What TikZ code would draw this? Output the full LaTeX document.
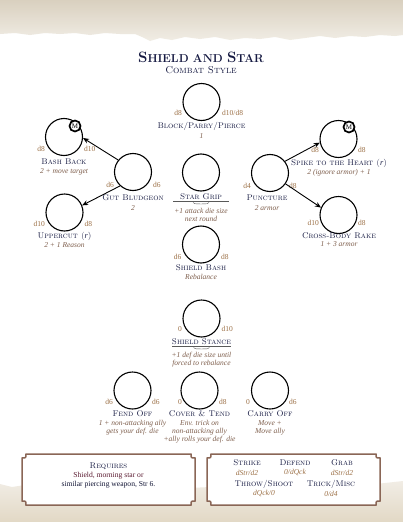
\documentclass[tikz,border=0pt]{standalone}
\usepackage{fontspec}
\newfontfamily\tms{Liberation Serif}
\usetikzlibrary{arrows.meta}
\definecolor{navy}{HTML}{161A42}
\definecolor{dicec}{HTML}{9C7046}
\definecolor{descc}{HTML}{7E5E4C}
\definecolor{boxc}{HTML}{8A6656}
\definecolor{maroon}{HTML}{5A1A30}
\definecolor{beigeA}{HTML}{D9D0BF}
\definecolor{beigeB}{HTML}{F1EDE5}
\definecolor{beigeC}{HTML}{E2D8C5}
\newcommand\bigsc[2]{{\fontsize{15}{15}\selectfont #1}{\fontsize{11.5}{12}\selectfont #2}}
\tikzset{
  sk/.style={circle, draw, line width=1.1pt, minimum size=37pt, inner sep=0pt},
  mbadge/.style={circle, draw, line width=1.7pt, fill=white, minimum size=11pt, inner sep=0pt, font=\tms\fontsize{7}{7}\selectfont},
  ttl/.style={text=navy, font=\fontsize{8.3}{9}\selectfont\scshape\addfontfeature{FakeBold=1.5}, inner sep=0pt},
  desc/.style={text=descc, font=\tms\fontsize{7.5}{8}\selectfont\itshape, align=center, inner sep=0pt},
  dice/.style={text=dicec, font=\tms\fontsize{7.5}{8}\selectfont, inner sep=0pt},
  arr/.style={-{Stealth[length=6pt,width=5pt]}, line width=0.9pt},
  orn/.style={line width=0.4pt, draw=black!65},
  boxline/.style={draw=boxc, line width=1.5pt, fill=white},
}
\begin{document}
\begin{tikzpicture}[x=1pt,y=-1pt]
\useasboundingbox (0,0) rectangle (403,522);
\fill[white] (0,0) rectangle (403,522);
% top torn band
\shade[top color=beigeA, bottom color=beigeB] (0,0) -- (403,0) -- (403,35) -- (395,36) -- (380,35) -- (365,37) -- (350,36) -- (335,38) -- (320,36) -- (305,38) -- (290,40) -- (275,37) -- (260,39) -- (245,38) -- (230,40) -- (215,37) -- (200,39) -- (185,37) -- (172,40) -- (160,38) -- (150,41) -- (142,37) -- (135,34) -- (120,34) -- (105,33) -- (90,35) -- (75,33) -- (60,34) -- (45,33) -- (30,35) -- (15,33) -- (0,34) -- cycle;
% bottom band
\shade[top color=beigeB, bottom color=beigeC] (0,484) -- (12,487) -- (25,485) -- (40,488) -- (60,486) -- (90,489) -- (130,487) -- (170,489) -- (210,487) -- (250,489) -- (290,486) -- (330,488) -- (365,485) -- (385,483) -- (403,481) -- (403,522) -- (0,522) -- cycle;

% title
\node[text=navy, inner sep=0pt] (title) at (201,57) {\bfseries\bigsc{S}{HIELD AND }\bigsc{S}{TAR}};
\node[text=navy, inner sep=0pt, font=\fontsize{10}{11}\selectfont\scshape\addfontfeature{FakeBold=1}] (sub) at (201,70) {Combat Style};

% Block/Parry/Pierce
\node[sk] (bpp) at (201.5,102) {};
\node[dice, anchor=east] (bppL) at (182,113) {d8};
\node[dice, anchor=west] (bppR) at (222,113) {d10/d8};
\node[ttl] (bppT) at (201.5,126) {Block/Parry/Pierce};
\node[desc] (bppD) at (201.5,136) {1};

% Bash Back
\node[sk] (bash) at (64,137) {};
\node[mbadge] (bashM) at (75,126) {M};
\node[dice, anchor=east] (bashL) at (45,149) {d8};
\node[dice, anchor=west] (bashR) at (84,149) {d10};
\node[ttl] (bashT) at (64,162) {Bash Back};
\node[desc] (bashD) at (64,172) {2 + move target};

% Gut Bludgeon
\node[sk] (gut) at (133,172) {};
\node[dice, anchor=east] (gutL) at (114,185) {d6};
\node[dice, anchor=west] (gutR) at (153,185) {d6};
\node[ttl] (gutT) at (133,198) {Gut Bludgeon};
\node[desc] (gutD) at (133,208) {2};

% Uppercut
\node[sk] (upc) at (64.5,212.5) {};
\node[dice, anchor=east] (upcL) at (45,223.5) {d10};
\node[dice, anchor=west] (upcR) at (84.5,223.5) {d8};
\node[ttl] (upcT) at (64.5,236) {Uppercut ({\tms\itshape r})};
\node[desc] (upcD) at (64.5,245.5) {2 + 1 Reason};

\draw[arr] (gut.141) -- (bash.-3);
\draw[arr] (gut.227) -- (upc.22);

% Star Grip
\node[sk] (sg) at (201,172.5) {};
\node[ttl] (sgT) at (201,197) {Star Grip};
\coordinate (sgL) at (173,201.5);
\coordinate (sgR) at (229,201.5);
\draw[orn] (sgL) -- (sgR);
\draw[orn] (193,202.5) .. controls (196,205.5) and (198,202.5) .. (201,204) .. controls (204,202.5) and (206,205.5) .. (209,202.5);
\node[desc] (sgD) at (201,214.5) {+1 attack die size\\next round};

% Shield Bash
\node[sk] (sb) at (201,244.5) {};
\node[dice, anchor=east] (sbL) at (181.5,256.5) {d6};
\node[dice, anchor=west] (sbR) at (221,256.5) {d8};
\node[ttl] (sbT) at (201,268) {Shield Bash};
\node[desc] (sbD) at (201,277) {Rebalance};

% Puncture
\node[sk] (pun) at (270,173) {};
\node[dice, anchor=east] (punL) at (251,186) {d4};
\node[dice, anchor=west] (punR) at (289,186) {d8};
\node[ttl] (punT) at (267,198) {Puncture};
\node[desc] (punD) at (267,208) {2 armor};

% Spike to the Heart
\node[sk] (spk) at (338.5,139) {};
\node[mbadge] (spkM) at (349,127) {M};
\node[dice, anchor=east] (spkL) at (319,149.5) {d8};
\node[dice, anchor=west] (spkR) at (358,149.5) {d8};
\node[ttl] (spkT) at (339,163) {Spike to the Heart ({\tms\itshape r})};
\node[desc] (spkD) at (339,172.5) {2 (ignore armor) + 1};

% Cross-Body Rake
\node[sk] (cbr) at (338.5,215) {};
\node[dice, anchor=east] (cbrL) at (319,222.5) {d10};
\node[dice, anchor=west] (cbrR) at (358,222.5) {d8};
\node[ttl] (cbrT) at (339,235.5) {Cross-Body Rake};
\node[desc] (cbrD) at (339,244.5) {1 + 3 armor};

\draw[arr] (pun.38) -- (spk.191);
\draw[arr] (pun.-35) -- (cbr.157);

% Shield Stance
\node[sk] (ss) at (201.5,318.5) {};
\node[dice, anchor=east] (ssL) at (182,329) {0};
\node[dice, anchor=west] (ssR) at (221.5,329) {d10};
\node[ttl] (ssT) at (201.5,342) {Shield Stance};
\coordinate (ssLn) at (172,346.5);
\coordinate (ssRn) at (231,346.5);
\draw[orn] (ssLn) -- (ssRn);
\draw[orn] (193.5,347.5) .. controls (196.5,350.5) and (198.5,347.5) .. (201.5,349) .. controls (204.5,347.5) and (206.5,350.5) .. (209.5,347.5);
\node[desc] (ssD) at (201.5,360) {+1 def die size until\\forced to rebalance};

% Fend Off
\node[sk] (fo) at (132.5,390.5) {};
\node[dice, anchor=east] (foL) at (113,402) {d6};
\node[dice, anchor=west] (foR) at (152,402) {d6};
\node[ttl] (foT) at (132.5,414) {Fend Off};
\node[desc] (foD) at (132.5,428) {1 + non-attacking ally\\gets your def. die};

% Cover & Tend
\node[sk] (ct) at (199.5,390.5) {};
\node[dice, anchor=east] (ctL) at (182,402) {0};
\node[dice, anchor=west] (ctR) at (219,402) {d8};
\node[ttl] (ctT) at (199.5,414) {Cover \& Tend};
\node[desc] (ctD) at (199.5,432) {Env. trick on\\non-attacking ally\\+ally rolls your def. die};

% Carry Off
\node[sk] (co) at (270,390.5) {};
\node[dice, anchor=east] (coL) at (250,402) {0};
\node[dice, anchor=west] (coR) at (289,402) {d6};
\node[ttl] (coT) at (270,414) {Carry Off};
\node[desc] (coD) at (270,428) {Move +\\Move ally};

% bottom boxes
\draw[boxline] (26,454) -- (191,454) .. controls (191,458) .. (195,458) -- (195,501) .. controls (191,501) .. (191,505) -- (26,505) .. controls (26,501) .. (22,501) -- (22,458) .. controls (26,458) .. (26,454) -- cycle;
\draw[boxline] (211,454) -- (376,454) .. controls (376,458) .. (380,458) -- (380,501) .. controls (376,501) .. (376,505) -- (211,505) .. controls (211,501) .. (207,501) -- (207,458) .. controls (211,458) .. (211,454) -- cycle;

\node[ttl] (reqT) at (108.5,466) {Requires};
\node[text=maroon, inner sep=0pt, font=\tms\fontsize{7.6}{8}\selectfont] (req1) at (108.5,476) {Shield, morning star or};
\node[text=navy!80!black, inner sep=0pt, font=\tms\fontsize{7.6}{8}\selectfont] (req2) at (108.5,485) {similar piercing weapon, Str 6.};

\node[ttl] (stT) at (247,463) {Strike};
\node[desc, text=dicec] (stD) at (247,472.5) {dStr/d2};
\node[ttl] (dfT) at (295,463) {Defend};
\node[desc, text=dicec] (dfD) at (295,472.5) {0/dQck};
\node[ttl] (grT) at (342,463) {Grab};
\node[desc, text=dicec] (grD) at (342,472.5) {dStr/d2};
\node[ttl] (thT) at (264,484) {Throw/Shoot};
\node[desc, text=dicec] (thD) at (264,493.5) {dQck/0};
\node[ttl] (trT) at (331,484) {Trick/Misc};
\node[desc, text=dicec] (trD) at (331,493.5) {0/d4};
\end{tikzpicture}
\end{document}
